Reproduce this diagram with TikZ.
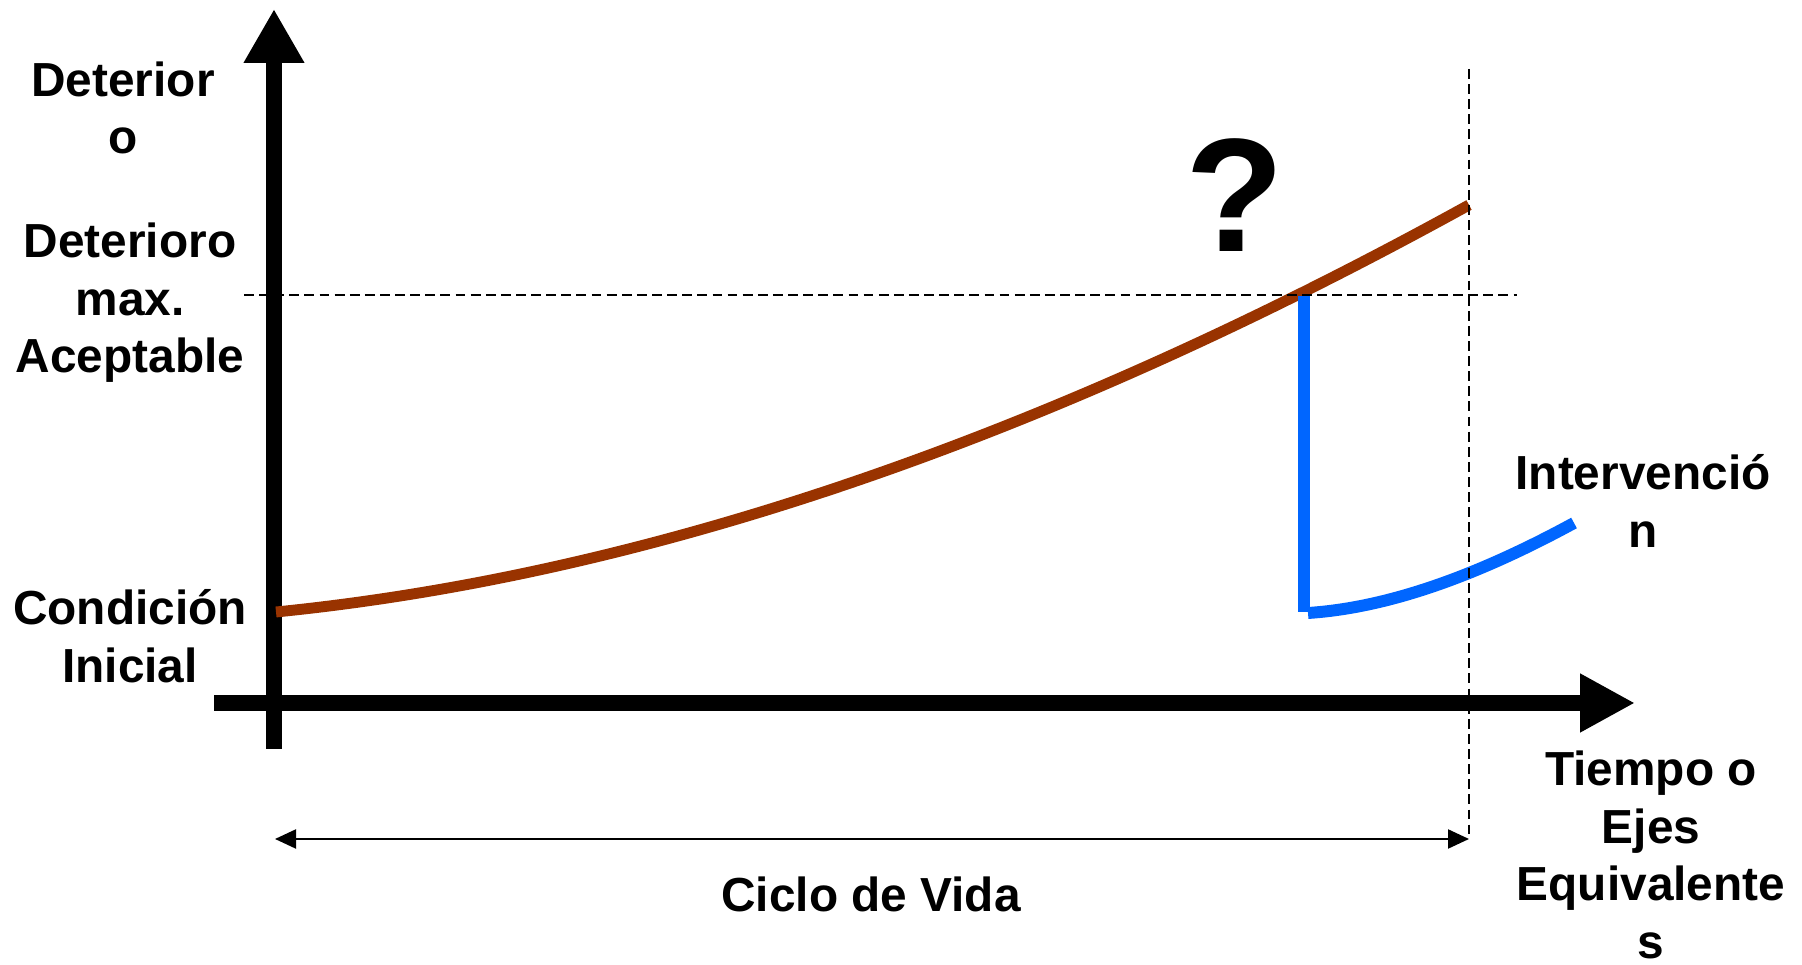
\documentclass[tikz,border=0pt]{standalone}
\usepackage{fontspec}
\setmainfont{Liberation Sans}
\usetikzlibrary{arrows.meta}
\definecolor{wearbrown}{RGB}{153,51,0}
\definecolor{fixblue}{RGB}{0,102,255}
\begin{document}
\begin{tikzpicture}[>=latex,
    axis/.style={line width=4.55pt},
    guide/.style={line width=0.45pt, dash pattern=on 2.8pt off 1.5pt},
    lbl/.style={font=\fontsize{13.6}{16.4}\selectfont\bfseries, align=center, inner sep=0pt}]
    \useasboundingbox (0,0) rectangle (18.02,9.65);
    % axes
        \draw[axis, -{Triangle[length=5.4mm, width=5.7mm]}](2.74,2.16)--(2.74,9.56);
        \draw[axis, -{Triangle[length=5.5mm, width=5.5mm]}](2.14,2.62)--(16.35,2.62);
    % deterioration curve and intervention
    \draw[wearbrown, line width=3.1pt](2.76,3.53) .. controls (6.45,3.90) and (10.43,5.25) .. (14.69,7.60);
    \draw[fixblue, line width=3.4pt](13.04,6.69)--(13.04,3.53);
    \draw[fixblue, line width=3.4pt](13.08,3.52) .. controls (13.85,3.57) and (14.73,3.87) .. (15.74,4.42);
    % limits
        \draw[guide](2.44,6.70)--(15.17,6.70);
        \draw[guide](14.69,8.96)--(14.69,1.26);
    \coordinate (start) at (2.75,1.26);\coordinate (stop) at (14.69,1.26);
    \draw[line width=0.6pt, {Triangle[length=2.1mm, width=1.9mm]}-{Triangle[length=2.1mm, width=1.9mm]}](start)--(stop);
    % labels
    \node (det) at (1.23,8.57) [lbl]{Deterior\\o};
    \node (max) at (1.30,6.62) [lbl]{Deterioro\\max.\\Aceptable};
    \node (ini) at (1.30,3.29) [lbl]{Condición\\Inicial};
    \node (q) at (12.35,7.70) [lbl, font=\fontsize{46}{50}\selectfont\bfseries]{?};
    \node (int) at (16.43,4.64) [lbl]{Intervenció\\n};
    \node (time) at (16.51,1.10) [lbl]{Tiempo o\\Ejes\\Equivalente\\s};
    \node (ciclo) at (8.71,0.71) [lbl]{Ciclo de Vida};
    \end{tikzpicture}
\end{document}
